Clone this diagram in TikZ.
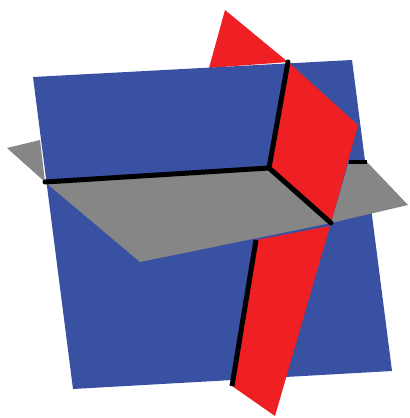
\documentclass[tikz,border=0pt]{standalone}
\usepackage{xcolor}
\definecolor{planeblue}{HTML}{3851A3}
\definecolor{planered}{HTML}{EE2024}
\definecolor{planegray}{HTML}{868686}
\tikzset{
  blueplane/.style={fill=planeblue},
  redplane/.style={fill=planered},
  grayplane/.style={fill=planegray},
  cutline/.style={draw=black, line width=1mm, line cap=round},
  cutstub/.style={draw=black, line width=0.8mm}
}
\begin{document}
\begin{tikzpicture}[x=0.02cm, y=-0.02cm]
\useasboundingbox (0,0) rectangle (409,418);
% corners and crossing points
\coordinate (center) at (269,168);
\coordinate (topdot) at (288,62);
\coordinate (leftdot) at (45,182);
\coordinate (rightend) at (367,162);
\coordinate (redright) at (358,125);
\coordinate (redmid) at (331,223);
\coordinate (redbelow) at (256,240);
\coordinate (redfoot) at (232,386);
% planes
\fill[redplane] (225,10) -- (209,68) -- (topdot) -- cycle;
\fill[grayplane] (7,148) -- (40,140) -- (leftdot) -- cycle;
\fill[blueplane] (33,77) -- (352,60) -- (392,371) -- (73,389) -- cycle;
\fill[grayplane] (leftdot) -- (center) -- (redmid) -- (140,262) -- cycle;
\fill[grayplane] (348,164) -- (rightend) -- (408,205) -- (redmid) -- cycle;
\fill[redplane] (topdot) -- (redright) -- (redmid) -- (center) -- cycle;
\fill[redplane] (redbelow) -- (330,226) -- (275,416) -- (redfoot) -- cycle;
% cuts
\draw[cutline] (leftdot) -- (center) -- (topdot);
\draw[cutline] (center) -- (redmid);
\draw[cutstub] (349,162) -- (rightend);
\draw[cutline, line cap=butt] (redbelow) -- (redfoot);
\end{tikzpicture}
\end{document}
